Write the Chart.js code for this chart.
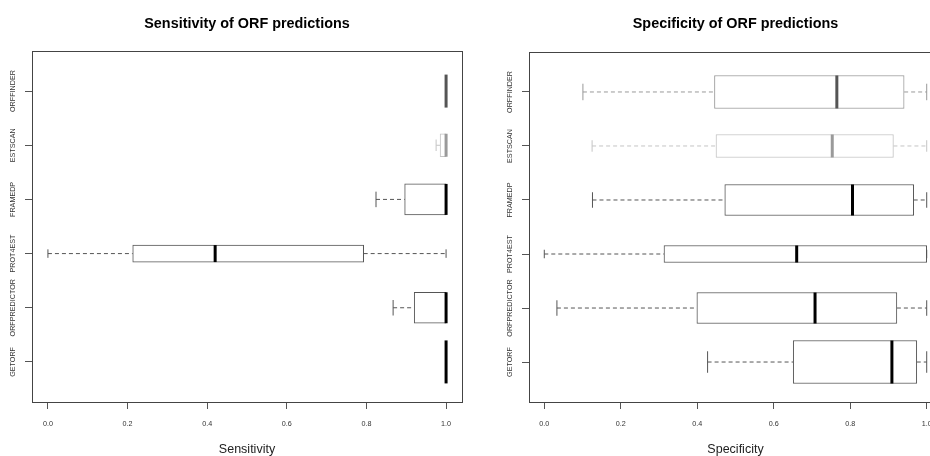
<!DOCTYPE html>
<html><head><meta charset="utf-8">
<script src="https://cdn.jsdelivr.net/npm/chart.js@4.4.1/dist/chart.umd.min.js"></script>
<style>
html,body{margin:0;padding:0;background:#fff;overflow:hidden;width:930px;height:456px;position:relative}
#c1{position:absolute;left:0;top:0}
#c2{position:absolute;left:465px;top:0}
</style></head><body>
<canvas id="c1" width="465" height="456"></canvas>
<canvas id="c2" width="480" height="456"></canvas>
<script>
// ---- data ----
const categories = ['GETORF', 'ORFPREDICTOR', 'PROT4EST', 'FRAMEDP', 'ESTSCAN', 'ORFFINDER'];
const positions = [1, 2, 3, 4, 5, 6];
const xTicks = [0, 0.2, 0.4, 0.6, 0.8, 1.0];

const sensMin = [1.000, 0.867, 0.000, 0.824, 0.975, 1.000];
const sensQ1  = [1.000, 0.920, 0.213, 0.896, 0.985, 1.000];
const sensMed = [1.000, 1.000, 0.420, 1.000, 1.000, 1.000];
const sensQ3  = [1.000, 1.000, 0.793, 1.000, 1.000, 1.000];
const sensMax = [1.000, 1.000, 1.000, 1.000, 1.000, 1.000];

const specMin = [0.427, 0.033, 0.000, 0.126, 0.125, 0.101];
const specQ1  = [0.651, 0.399, 0.313, 0.472, 0.449, 0.445];
const specMed = [0.909, 0.708, 0.660, 0.806, 0.753, 0.765];
const specQ3  = [0.974, 0.922, 1.000, 0.966, 0.913, 0.941];
const specMax = [1.000, 1.000, 1.000, 1.000, 1.000, 1.000];

// ---- styles ----
const boxPx = [43, 31, 17, 31, 23, 33];
const boxColor = ['#555555', '#555555', '#555555', '#555555', '#c4c4c4', '#999999'];
const medColor = ['#000000', '#000000', '#000000', '#000000', '#9a9a9a', '#555555'];
const FONT = '"Liberation Sans", Arial, sans-serif';
const TICK_SIZE = 7.2;

Chart.defaults.font.family = FONT;

const mctx = document.createElement('canvas').getContext('2d');
mctx.font = TICK_SIZE + 'px ' + FONT;
const widest = Math.max(...categories.map(c => mctx.measureText(c).width));
const yLabelPad = 12 - widest / 2;

const framePlugin = {
  id: 'frame',
  afterDatasetsDraw(chart) {
    const a = chart.chartArea, ctx = chart.ctx;
    ctx.save();
    ctx.strokeStyle = '#444';
    ctx.lineWidth = 1;
    ctx.strokeRect(Math.round(a.left) + 0.5, Math.round(a.top) + 0.5,
      Math.round(a.right - a.left), Math.round(a.bottom - a.top));
    ctx.restore();
  }
};

function makeChart(id, title, axisTitle, mins, q1s, meds, q3s, maxs, axisW, titleBottom) {
  const datasets = [];
  categories.forEach((c, i) => {
    const p = positions[i];
    datasets.push({
      type: 'line', order: 4,
      data: [{x: mins[i], y: p}, {x: q1s[i], y: p}],
      borderColor: boxColor[i], borderWidth: 1, borderDash: [4, 3],
      pointRadius: 0, fill: false, tension: 0
    });
    datasets.push({
      type: 'line', order: 4,
      data: [{x: q3s[i], y: p}, {x: maxs[i], y: p}],
      borderColor: boxColor[i], borderWidth: 1, borderDash: [4, 3],
      pointRadius: 0, fill: false, tension: 0
    });
    datasets.push({
      type: 'bar', order: 3,
      data: [{x: [q1s[i], q3s[i]], y: p}],
      backgroundColor: '#ffffff', borderColor: boxColor[i], borderWidth: 1,
      borderSkipped: false, barThickness: boxPx[i], grouped: false
    });
    datasets.push({
      type: 'scatter', order: 2,
      data: [{x: mins[i], y: p}, {x: maxs[i], y: p}],
      pointStyle: 'line', pointRotation: 90, pointRadius: boxPx[i] / 4,
      pointBorderColor: boxColor[i], pointBorderWidth: 1, showLine: false
    });
    datasets.push({
      type: 'scatter', order: 1,
      data: [{x: meds[i], y: p}],
      pointStyle: 'line', pointRotation: 90, pointRadius: boxPx[i] / 2,
      pointBorderColor: medColor[i], pointBorderWidth: 3, showLine: false
    });
  });

  return new Chart(document.getElementById(id), {
    type: 'bar',
    data: { datasets },
    options: {
      indexAxis: 'y',
      responsive: false,
      animation: false,
      devicePixelRatio: 1,
      events: [],
      layout: { autoPadding: false, padding: { left: 0, right: 3, top: 0, bottom: 0 } },
      plugins: {
        legend: { display: false },
        tooltip: { enabled: false },
        title: {
          display: true, text: title, fullSize: false, color: '#000',
          font: { size: 14.4, weight: 'bold', lineHeight: 1.2 },
          padding: { top: 15, bottom: titleBottom }
        }
      },
      scales: {
        x: {
          type: 'linear', position: 'bottom', min: -0.04, max: 1.04, offset: false,
          afterBuildTicks: s => { s.ticks = xTicks.map(v => ({ value: v })); },
          afterFit: s => { s.height = 54; s.paddingLeft = 0; s.paddingRight = 0; },
          grid: { drawOnChartArea: false, drawTicks: true, tickLength: 7, color: '#555', offset: false },
          border: { display: false },
          ticks: {
            callback: v => Number(v).toFixed(1), font: { size: TICK_SIZE },
            color: '#333', padding: 10.7, maxRotation: 0, autoSkip: false
          },
          title: {
            display: true, text: axisTitle, color: '#222',
            font: { size: 12.5, lineHeight: 1 }, padding: { top: 0, bottom: 0 }
          }
        },
        y: {
          type: 'linear', position: 'left', min: 0.26, max: 6.74, offset: false,
          afterBuildTicks: s => { s.ticks = positions.map(v => ({ value: v })); },
          afterFit: s => { s.width = axisW; s.paddingTop = 0; s.paddingBottom = 0; },
          grid: { drawOnChartArea: false, drawTicks: true, tickLength: 7, color: '#555', offset: false },
          border: { display: false },
          ticks: {
            callback: v => categories[positions.indexOf(v)],
            font: { size: TICK_SIZE }, color: '#333',
            minRotation: 90, maxRotation: 90, crossAlign: 'center',
            padding: yLabelPad, autoSkip: false
          }
        }
      }
    },
    plugins: [framePlugin]
  });
}

makeChart('c1', 'Sensitivity of ORF predictions', 'Sensitivity',
  sensMin, sensQ1, sensMed, sensQ3, sensMax, 32, 18.72);
makeChart('c2', 'Specificity of ORF predictions', 'Specificity',
  specMin, specQ1, specMed, specQ3, specMax, 64, 19.72);
</script>
</body></html>
